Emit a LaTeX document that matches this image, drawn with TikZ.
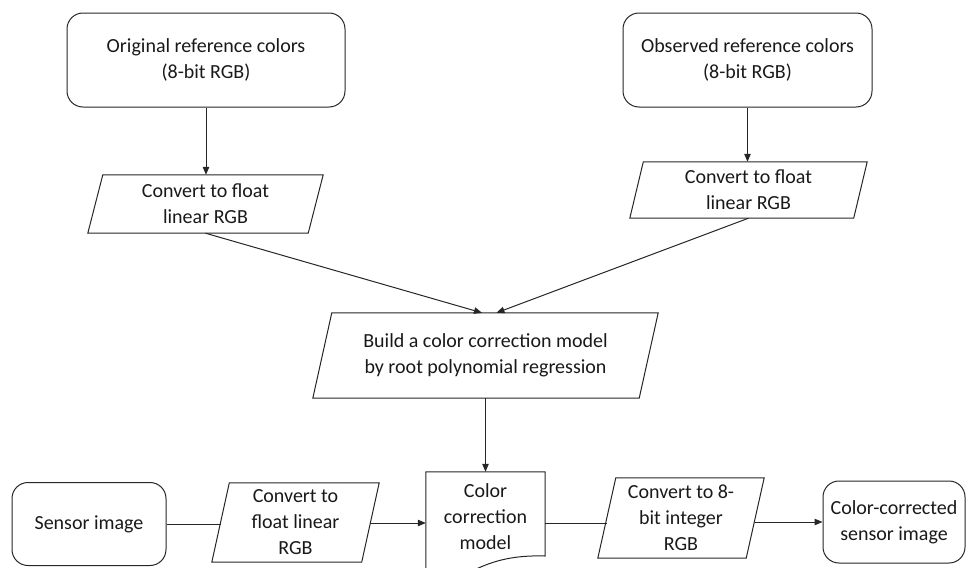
\documentclass[tikz,border=0pt]{standalone}
\usepackage{fontspec}
\setmainfont{Carlito}
\usetikzlibrary{arrows.meta,calc}
\newcommand{\parash}[2]{%
  \draw[line] ([xshift=#2]#1.north west) -- (#1.north east) -- ([xshift=-#2]#1.south east) -- (#1.south west) -- cycle;
  \path (#1.south west) -- ([xshift=#2]#1.north west) coordinate[pos=0.5] (#1-l);
  \path ([xshift=-#2]#1.south east) -- (#1.north east) coordinate[pos=0.5] (#1-r);
}
\begin{document}
\begin{tikzpicture}[x=1pt,y=-1pt,
  line/.style={draw=black!85,line width=1pt},
  arr/.style={line,-{Triangle[length=8pt,width=6.5pt]}},
  txt/.style={align=center,font=\fontsize{20}{26}\selectfont,text=black!90,inner sep=0pt},
  rbox/.style={txt,line,rounded corners=16pt},
  pbox/.style={txt,draw=none}
]
\useasboundingbox (0,0) rectangle (970,568);

\node[rbox,minimum width=278,minimum height=94] (orig) at (206,60) {Original reference colors\\(8-bit RGB)};
\node[rbox,minimum width=249,minimum height=94] (obs) at (747.5,60) {Observed reference colors\\(8-bit RGB)};
\node[pbox,minimum width=235,minimum height=58] (p1) at (205.5,204) {Convert to float\\linear RGB};
\node[pbox,minimum width=237,minimum height=56] (p2) at (748.5,190) {Convert to float\\linear RGB};
\node[pbox,minimum width=345,minimum height=85] (build) at (485.5,355.5) {Build a color correction model\\by root polynomial regression};
\node[rbox,minimum width=154,minimum height=83] (sensor) at (89,524) {Sensor image};
\node[pbox,minimum width=167,minimum height=79] (p3) at (295.5,522.5) {Convert to\\float linear\\RGB};
\node[draw=none,minimum width=119,minimum height=102,inner sep=0pt] (ccm) at (485.5,523) {};
\node[txt] (ccmt) at (485.5,517) {Color\\correction\\model};
\node[pbox,minimum width=166,minimum height=80] (p4) at (681,518) {Convert to 8-\\bit integer\\RGB};
\node[rbox,minimum width=142,minimum height=82] (cc) at (894,522) {Color-corrected\\sensor image};

\parash{p1}{15pt}
\parash{p2}{13.5pt}
\parash{build}{19pt}
\parash{p3}{17.5pt}
\parash{p4}{18pt}

\begin{scope}
  \clip (0,0) rectangle (970,568);
  \draw[line] (ccm.north west) -- (ccm.north east) -- (545,556)
    .. controls (510,555) and (490,562) .. (470,572)
    .. controls (452,582) and (440,590) .. (426,590) -- cycle;
\end{scope}

\draw[arr] (orig.south) -- (orig.south |- p1.north);
\draw[arr] (obs.south) -- (obs.south |- p2.north);
\draw[arr] (p1.south) -- ([xshift=-3.5pt]build.north);
\draw[arr] (p2.south) -- ([xshift=11pt]build.north);
\draw[arr] (build.south) -- (build.south |- ccm.north);
\draw[line] (sensor.east) -- (sensor.east -| p3-l);
\draw[arr] (ccm.west -| p3-r) -- (ccm.west);
\draw[line] (ccm.east) -- (ccm.east -| p4-l);
\draw[arr] (cc.west -| p4-r) -- (cc.west);
\end{tikzpicture}
\end{document}
